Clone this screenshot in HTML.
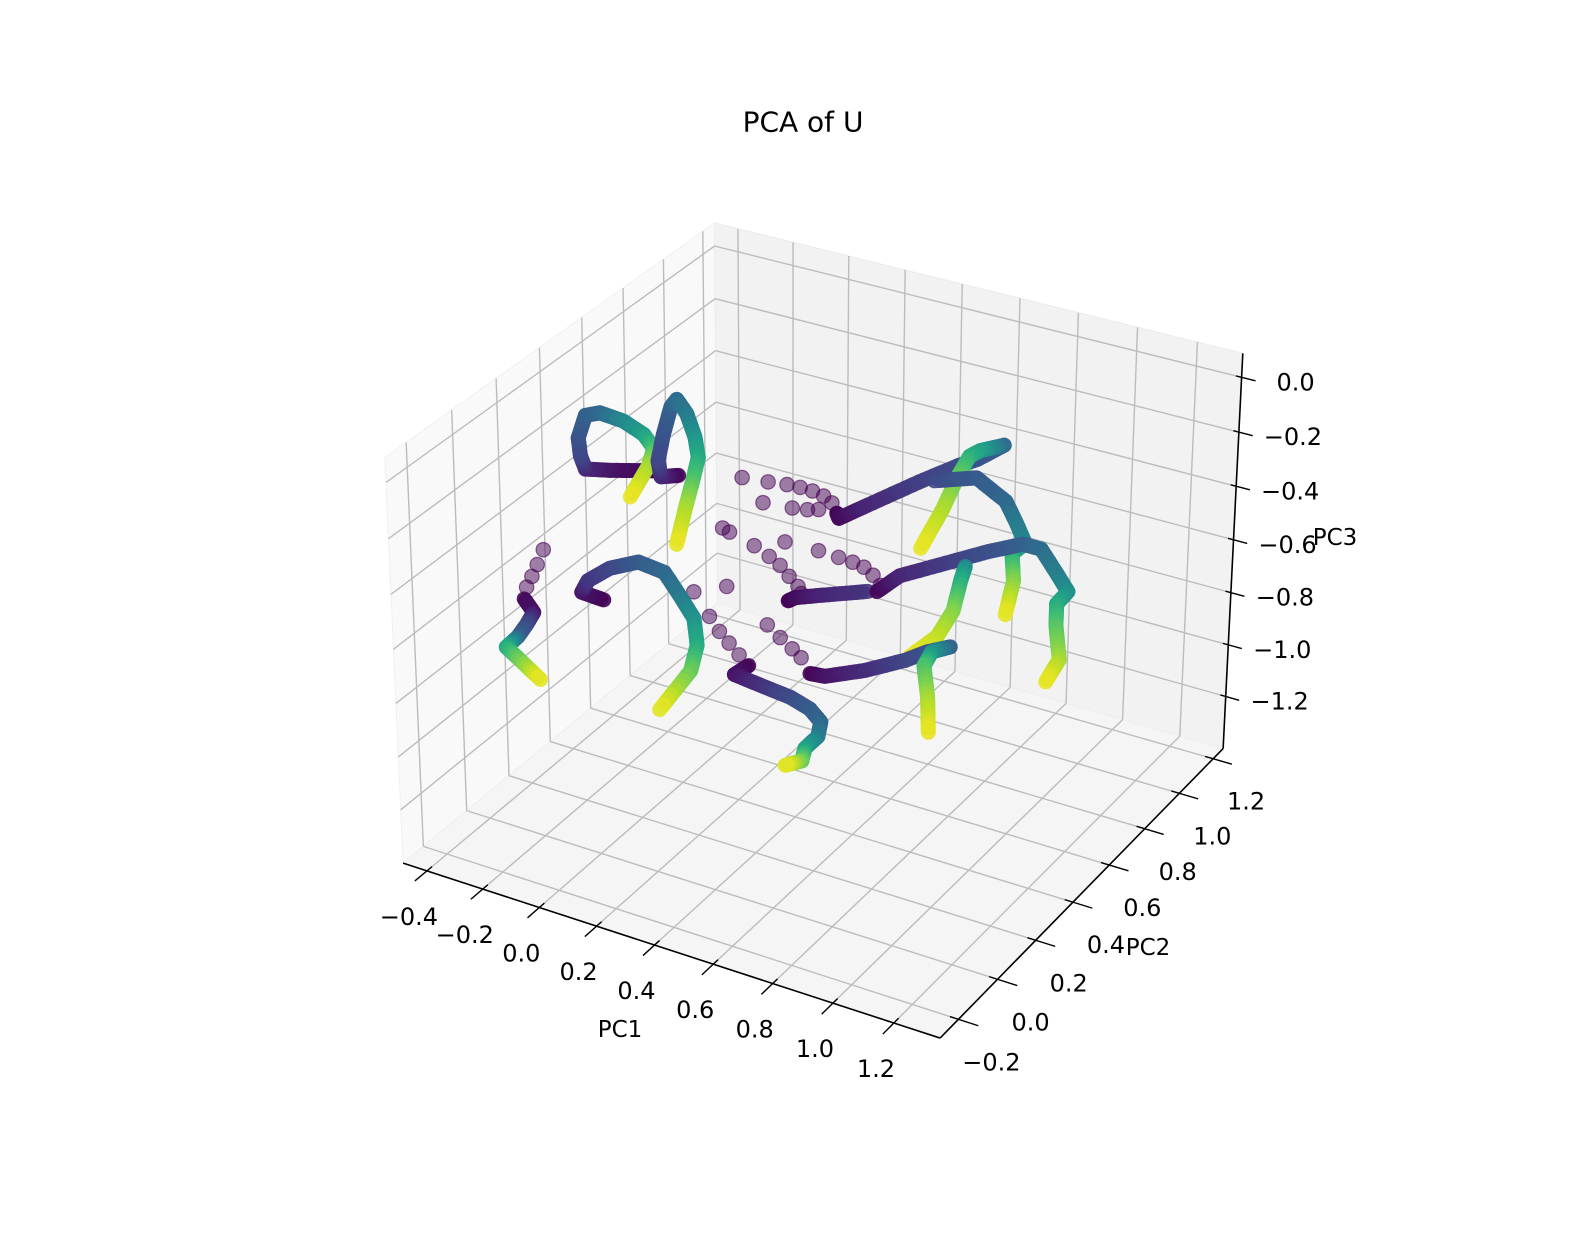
<!DOCTYPE html>
<html><head><meta charset="utf-8"><title>PCA of U</title>
<style>
html,body{margin:0;padding:0;background:#fff;}
svg text{font-family:"DejaVu Sans","Liberation Sans",sans-serif;fill:#000;}
</style></head>
<body>
<svg id="chart" width="1580" height="1236" viewBox="0 0 1580 1236" xmlns="http://www.w3.org/2000/svg">
<rect x="0" y="0" width="1580" height="1236" fill="#ffffff"/>
<text x="803" y="122" text-anchor="middle" dominant-baseline="central" font-size="28">PCA of U</text>
<g id="panes"></g>
<g id="grid"></g>
<g id="axes"></g>
<g id="marks"></g>
<text x="620" y="1030" text-anchor="middle" dominant-baseline="central" font-size="23">PC1</text>
<text x="1148" y="948" text-anchor="middle" dominant-baseline="central" font-size="23">PC2</text>
<text x="1335" y="538" text-anchor="middle" dominant-baseline="central" font-size="23">PC3</text>
</svg>
<script>
// ---- axis limits and ticks ----
const xLim = [-0.486, 1.350];
const yLim = [-0.292, 1.260];
const zLim = [-1.404, 0.087];
const xTicks = [-0.4, -0.2, 0.0, 0.2, 0.4, 0.6, 0.8, 1.0, 1.2];
const yTicks = [-0.2, 0.0, 0.2, 0.4, 0.6, 0.8, 1.0, 1.2];
const zTicks = [0.0, -0.2, -0.4, -0.6, -0.8, -1.0, -1.2];
const xTickLabels = ["\u22120.4","\u22120.2","0.0","0.2","0.4","0.6","0.8","1.0","1.2"];
const yTickLabels = ["\u22120.2","0.0","0.2","0.4","0.6","0.8","1.0","1.2"];
const zTickLabels = ["0.0","\u22120.2","\u22120.4","\u22120.6","\u22120.8","\u22121.0","\u22121.2"];

// ---- data: trajectories (PC1, PC3, time fraction), PC2 per trajectory ----
const trajPC2 = [0.48, 0.48, 0.48, 0.48, 0.48, 0.48, 0.48, 0.48, 0.48, 0.48, 0.48, 0.48];
const traj1PC1 = [-0.130,-0.303,-0.393,-0.410,-0.417,-0.389,-0.337,-0.254,-0.182,-0.147,-0.168,-0.234];
const traj1PC3 = [-0.310,-0.358,-0.379,-0.336,-0.270,-0.179,-0.155,-0.162,-0.191,-0.233,-0.304,-0.437];
const traj1Time = [0.0,0.05,0.1,0.2,0.25,0.3,0.33,0.45,0.55,0.68,0.85,0.97];
const traj2PC1 = [-0.061,-0.123,-0.133,-0.113,-0.085,-0.064,-0.030,-0.002,0.009,-0.009,-0.036,-0.071];
const traj2PC3 = [-0.307,-0.330,-0.274,-0.173,-0.063,-0.030,-0.072,-0.149,-0.221,-0.302,-0.412,-0.566];
const traj2Time = [0.0,0.1,0.2,0.25,0.3,0.35,0.4,0.5,0.6,0.7,0.85,0.97];
const traj3PC1 = [-0.631,-0.597,-0.624,-0.659,-0.704,-0.659,-0.579];
const traj3PC3 = [-0.943,-0.985,-1.039,-1.099,-1.154,-1.185,-1.242];
const traj3Time = [0.02,0.05,0.2,0.3,0.6,0.75,0.97];
const traj4PC1 = [-0.337,-0.417,-0.393,-0.313,-0.209,-0.116,-0.061,-0.012,-0.002,-0.026,-0.140];
const traj4PC3 = [-0.857,-0.852,-0.800,-0.729,-0.674,-0.685,-0.758,-0.828,-0.927,-1.032,-1.219];
const traj4Time = [0.0,0.05,0.15,0.2,0.28,0.33,0.4,0.5,0.6,0.75,0.97];
const traj5PC1 = [0.181,0.130,0.240,0.327,0.396,0.434,0.424,0.379,0.368,0.309];
const traj5PC3 = [-0.947,-0.997,-1.011,-1.021,-1.044,-1.081,-1.140,-1.200,-1.252,-1.289];
const traj5Time = [0.0,0.05,0.15,0.22,0.28,0.32,0.4,0.55,0.75,0.97];
const traj6PC1 = [0.486,0.493,0.586,0.759,0.887,0.949,1.036];
const traj6PC3 = [-0.286,-0.303,-0.230,-0.095,0.000,0.040,0.115];
const traj6Time = [0.0,0.02,0.1,0.18,0.22,0.25,0.3];
const traj7PC1 = [1.036,0.960,0.925,0.887,0.839,0.769];
const traj7PC3 = [0.115,0.075,0.045,-0.040,-0.170,-0.330];
const traj7Time = [0.33,0.55,0.62,0.75,0.87,0.97];
const traj8PC1 = [0.811,0.949,1.046,1.081,1.112,1.070,1.077,1.053];
const traj8PC3 = [-0.075,-0.025,-0.080,-0.145,-0.210,-0.260,-0.355,-0.485];
const traj8Time = [0.22,0.28,0.33,0.4,0.45,0.6,0.8,0.97];
const traj9PC1 = [0.320,0.344,0.441,0.593];
const traj9PC3 = [-0.659,-0.640,-0.601,-0.541];
const traj9Time = [0.0,0.03,0.1,0.15];
const traj10PC1 = [0.624,0.700,0.873,0.991,1.105,1.164,1.219,1.254,1.219,1.219,1.233,1.191];
const traj10PC3 = [-0.532,-0.451,-0.347,-0.276,-0.215,-0.215,-0.290,-0.340,-0.395,-0.475,-0.592,-0.687];
const traj10Time = [0.0,0.1,0.18,0.24,0.3,0.35,0.42,0.48,0.6,0.72,0.85,0.97];
const traj11PC1 = [0.918,0.904,0.880,0.828,0.735];
const traj11PC3 = [-0.351,-0.405,-0.525,-0.635,-0.740];
const traj11Time = [0.45,0.6,0.8,0.9,0.97];
const traj12PC1 = [0.396,0.448,0.586,0.724,0.794,0.873,0.811,0.786,0.800,0.804];
const traj12PC3 = [-0.909,-0.903,-0.837,-0.755,-0.703,-0.659,-0.697,-0.757,-0.870,-1.000];
const traj12Time = [0.0,0.05,0.12,0.2,0.25,0.3,0.5,0.7,0.85,0.97];
// sparse early (purple) samples
const dotsPC1 = [-0.555,-0.579,-0.600,-0.621, -0.012,0.043,0.078,0.112,0.147,
  0.161,0.251,0.316,0.361,0.403,0.441,0.469, 0.233,0.334,0.386,0.424,
  0.116,0.202,0.254,0.292,0.323,0.354,0.365, 0.309,0.424,0.493,0.541,0.579,0.610,0.635,
  0.105,0.247,0.292,0.334,0.365, 0.092];
const dotsPC3 = [-0.731,-0.795,-0.847,-0.895, -0.727,-0.803,-0.849,-0.883,-0.917,
  -0.251,-0.241,-0.232,-0.229,-0.230,-0.237,-0.254, -0.322,-0.312,-0.303,-0.291,
  -0.465,-0.490,-0.514,-0.536,-0.567,-0.595,-0.618, -0.444,-0.442,-0.446,-0.449,-0.456,-0.476,-0.506,
  -0.671,-0.772,-0.806,-0.835,-0.859, -0.457];
const dotsPC2 = 0.48;

// ---- projection calibration (box corners in normalized coords -> pixels) ----
const calib = [
  [0,0,0,404,862],[1,0,0,940,1039],[1,1,0,1224,747],[1,1,1,1242,354],
  [0,0,1,384,458],[0,1,1,716,222],[0,1,0,716,605]
];
function fitP(){
  const A=[],b=[];
  calib.forEach(c=>{
    const [X,Y,Z,u,v]=c;
    A.push([X,Y,Z,1,0,0,0,0,-u*X,-u*Y,-u*Z]); b.push(u);
    A.push([0,0,0,0,X,Y,Z,1,-v*X,-v*Y,-v*Z]); b.push(v);
  });
  const n=11,M=[];
  for(let i=0;i<n;i++){M.push(new Array(n+1).fill(0));
    for(let j=0;j<n;j++){let s=0;for(let k=0;k<A.length;k++)s+=A[k][i]*A[k][j];M[i][j]=s;}
    let s=0;for(let k=0;k<A.length;k++)s+=A[k][i]*b[k];M[i][n]=s;}
  for(let i=0;i<n;i++){let p=i;for(let r=i+1;r<n;r++)if(Math.abs(M[r][i])>Math.abs(M[p][i]))p=r;
    [M[i],M[p]]=[M[p],M[i]];
    for(let r=0;r<n;r++){if(r===i)continue;const f=M[r][i]/M[i][i];for(let c=i;c<=n;c++)M[r][c]-=f*M[i][c];}}
  return M.map((row,i)=>row[n]/row[i]);
}
const P=fitP();
function projN(X,Y,Z){const w=P[8]*X+P[9]*Y+P[10]*Z+1;
  return [(P[0]*X+P[1]*Y+P[2]*Z+P[3])/w,(P[4]*X+P[5]*Y+P[6]*Z+P[7])/w];}
function nx(x){return (x-xLim[0])/(xLim[1]-xLim[0]);}
function ny(y){return (y-yLim[0])/(yLim[1]-yLim[0]);}
function nz(z){return (z-zLim[0])/(zLim[1]-zLim[0]);}
function proj(x,y,z){return projN(nx(x),ny(y),nz(z));}

const NS="http://www.w3.org/2000/svg";
function mk(tag,parent,attrs){const e=document.createElementNS(NS,tag);for(const k in attrs)e.setAttribute(k,attrs[k]);parent.appendChild(e);return e;}
function poly(pts){return pts.map(p=>p[0].toFixed(1)+","+p[1].toFixed(1)).join(" ");}

// panes
const panes=document.getElementById('panes');
let e;
e=mk('polygon',panes,{points:poly([projN(0,0,0),projN(0,1,0),projN(0,1,1),projN(0,0,1)]),fill:'#f9f9f9',stroke:'#f0f0f0'});


e=mk('polygon',panes,{points:poly([projN(0,1,0),projN(1,1,0),projN(1,1,1),projN(0,1,1)]),fill:'#f2f2f2',stroke:'#ebebeb'});


e=mk('polygon',panes,{points:poly([projN(0,0,0),projN(1,0,0),projN(1,1,0),projN(0,1,0)]),fill:'#f5f5f5',stroke:'#eeeeee'});



// gridlines
const grid=document.getElementById('grid');
function gl(a,b,name){const l=mk('line',grid,{x1:a[0],y1:a[1],x2:b[0],y2:b[1],stroke:'#bcbcbc','stroke-width':1.4});
  
  }
xTicks.forEach(t=>{const X=nx(t);gl(projN(X,0,0),projN(X,1,0),'x-gridline');gl(projN(X,1,0),projN(X,1,1),'x-gridline');});
yTicks.forEach(t=>{const Y=ny(t);gl(projN(0,Y,0),projN(1,Y,0),'y-gridline');gl(projN(0,Y,0),projN(0,Y,1),'y-gridline');});
zTicks.forEach(t=>{const Z=nz(t);gl(projN(0,0,Z),projN(0,1,Z),'z-gridline');gl(projN(0,1,Z),projN(1,1,Z),'z-gridline');});

// axes lines, ticks, labels
const axes=document.getElementById('axes');
function al(a,b,name,w){const l=mk('line',axes,{x1:a[0],y1:a[1],x2:b[0],y2:b[1],stroke:'#000','stroke-width':w});
  
  }
al(projN(0,0,0),projN(1,0,0),'x-axis-line',1.6);
al(projN(1,0,0),projN(1,1,0),'y-axis-line',1.6);
al(projN(1,1,0),projN(1,1,1),'z-axis-line',1.6);
function tl(p,txt,dx,dy,name){const t=mk('text',axes,{x:(p[0]+dx).toFixed(1),y:(p[1]+dy).toFixed(1),'text-anchor':'middle','dominant-baseline':'central','font-size':24});
  t.textContent=txt;
  
  }
xTicks.forEach((t,i)=>{const X=nx(t);al(projN(X,0.015,0),projN(X,-0.035,0),'x-tick',1.4);tl(projN(X,0,0),xTickLabels[i],-18,46,'x-tick-label');});
yTicks.forEach((t,i)=>{const Y=ny(t);al(projN(0.985,Y,0),projN(1.035,Y,0),'y-tick',1.4);tl(projN(1,Y,0),yTickLabels[i],33,43,'y-tick-label');});
zTicks.forEach((t,i)=>{const Z=nz(t);al(projN(0.99,1,Z),projN(1.025,1,Z),'z-tick',1.4);tl(projN(1,1,Z),zTickLabels[i],54,5,'z-tick-label');});

// viridis
const vir=[[68,1,84],[72,36,117],[65,68,135],[53,95,141],[42,120,142],[33,145,140],[34,168,132],[68,191,112],[122,209,81],[189,223,38],[253,231,37]];
function viridis(t){t=Math.max(0,Math.min(1,t));const f=t*10,i=Math.min(9,Math.floor(f)),r=f-i;
  const c=vir[i].map((v,k)=>Math.round(v+(vir[i+1][k]-v)*r));return 'rgb('+c.join(',')+')';}

const marks=document.getElementById('marks');
// sparse dots
dotsPC1.forEach((v,i)=>{const p=proj(v,dotsPC2,dotsPC3[i]);
  const c=mk('circle',marks,{cx:p[0].toFixed(1),cy:p[1].toFixed(1),r:7.2,fill:'#440154','fill-opacity':0.5,stroke:'#440154','stroke-opacity':0.6,'stroke-width':1.2});
  
  
});
// trajectories
const trajs=[[traj1PC1,traj1PC3,traj1Time],[traj2PC1,traj2PC3,traj2Time],[traj3PC1,traj3PC3,traj3Time],
  [traj4PC1,traj4PC3,traj4Time],[traj5PC1,traj5PC3,traj5Time],[traj6PC1,traj6PC3,traj6Time],
  [traj7PC1,traj7PC3,traj7Time],[traj8PC1,traj8PC3,traj8Time],[traj9PC1,traj9PC3,traj9Time],
  [traj10PC1,traj10PC3,traj10Time],[traj11PC1,traj11PC3,traj11Time],[traj12PC1,traj12PC3,traj12Time]];
trajs.forEach((tr,ti)=>{
  const g=mk('g',marks,{});
  
  
  const [a,c,tm]=tr,y=trajPC2[ti];
  for(let i=0;i<a.length-1;i++){
    const p0=proj(a[i],y,c[i]),p1=proj(a[i+1],y,c[i+1]);
    const S=8;
    for(let s=0;s<S;s++){
      const f0=s/S,f1=(s+1)/S,fm=(s+0.5)/S;
      const q0=[p0[0]+(p1[0]-p0[0])*f0,p0[1]+(p1[1]-p0[1])*f0];
      const q1=[p0[0]+(p1[0]-p0[0])*f1,p0[1]+(p1[1]-p0[1])*f1];
      const col=viridis(tm[i]+(tm[i+1]-tm[i])*fm);
      const l=mk('line',g,{x1:q0[0].toFixed(1),y1:q0[1].toFixed(1),x2:q1[0].toFixed(1),y2:q1[1].toFixed(1),stroke:col,'stroke-width':15,'stroke-linecap':'round','stroke-opacity':0.9});
      
      
    }
  }
});
</script>
</body></html>
